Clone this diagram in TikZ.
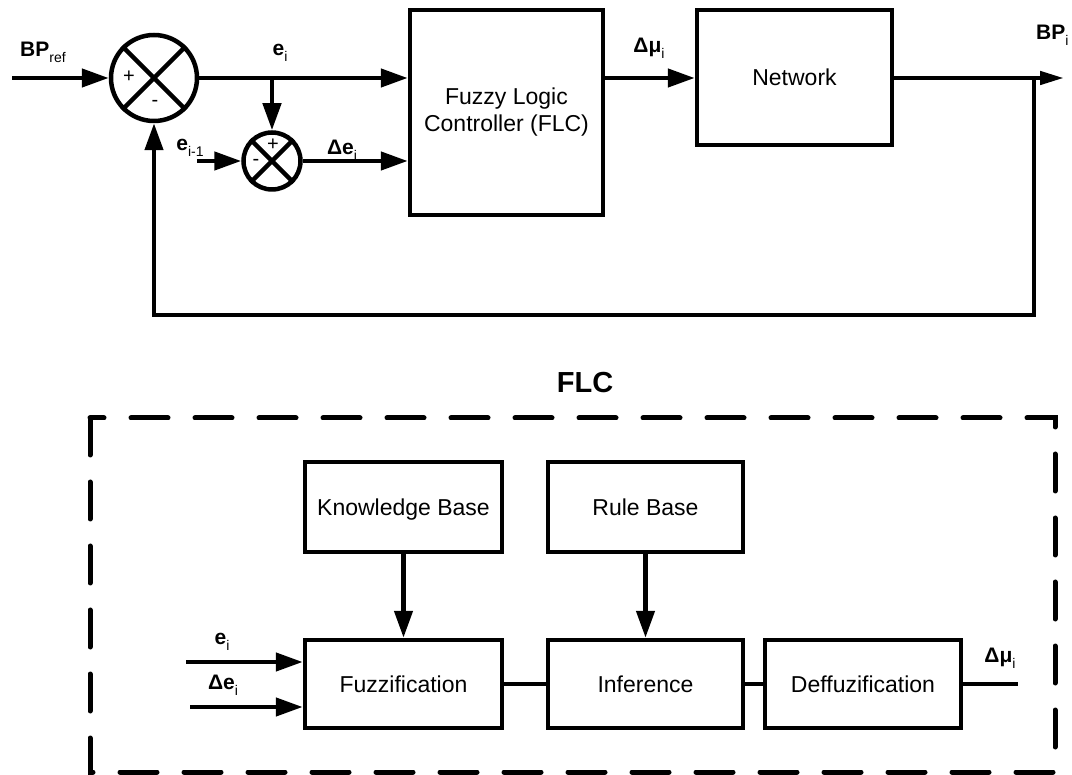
\documentclass[tikz,border=0pt]{standalone}
\usepackage{fontspec}
\setmainfont{Liberation Sans}
\usetikzlibrary{arrows.meta}
\newcommand\lblsub[1]{\raisebox{-0.3em}{\fontsize{14}{14}\selectfont\mdseries #1}}
\tikzset{
  blk/.style={draw, line width=4.5pt, rectangle, inner sep=0pt, align=center, font=\fontsize{23}{27}\selectfont},
  bb/.style={blk, text height=16.5pt, text depth=0pt},
  sumj/.style={draw, line width=4.5pt, circle, inner sep=0pt},
  wire/.style={line width=4.5pt},
  arr/.style={line width=4.5pt, -{Triangle[length=27pt,width=18pt]}},
  arrsm/.style={line width=4.5pt, -{Triangle[length=24pt,width=13pt]}},
  lbl/.style={font=\fontsize{21}{21}\selectfont\bfseries, inner sep=0pt},
  sgn/.style={font=\fontsize{20}{20}\selectfont, inner sep=0pt},
  dashbox/.style={line width=5pt, dash pattern=on 37pt off 27pt, line cap=round}
}
\begin{document}
\begin{tikzpicture}[x=1pt,y=-1pt]
\useasboundingbox (0,0) rectangle (1072,775);
% ---------- top loop ----------
\node[sumj, minimum size=86pt] (s1) at (154,78) {};
\draw[line width=4.5pt] (s1.north west) -- (s1.south east) (s1.north east) -- (s1.south west);
\node[sgn] (s1p) at (129,77) {+};
\node[sgn] (s1m) at (155,103) {-};
\node[sumj, minimum size=57pt] (s2) at (272,161) {};
\draw[line width=4.5pt] (s2.north west) -- (s2.south east) (s2.north east) -- (s2.south west);
\node[sgn] (s2p) at (273,145) {+};
\node[sgn] (s2m) at (256,162) {-};
\node[blk, minimum width=193pt, minimum height=205pt] (flc) at (506.5,112.5) {Fuzzy Logic\\Controller (FLC)};
\node[bb, minimum width=195pt, minimum height=135pt] (net) at (794.5,77.5) {Network};
\coordinate (bpin) at (12,78);
\coordinate (br) at (272,78);
\coordinate (ein) at (197,161);
\coordinate (split) at (1034,78);
\coordinate (bpout) at (1064,78);
\coordinate (fbc) at (154,315);
\draw[arr] (bpin) -- (s1);
\draw[arr] (s1.east) -- (s1.east -| flc.west);
\draw[arr] (br) -- (s2);
\draw[arr] (ein) -- (s2);
\draw[arr] (s2.east) -- (s2.east -| flc.west);
\draw[arr] (flc.east |- s1) -- (net.west |- s1);
\draw[wire] (net.east |- split) -- (split);
\draw[arrsm] (split) -- (bpout);
\draw[arr] (split) |- (fbc) -- (s1.south);
\node[lbl, anchor=west] (lbp) at (20,52) {BP\lblsub{ref}};
\node[lbl] (lei) at (280,53) {e\lblsub{i}};
\node[lbl] (lei1) at (190,148) {e\lblsub{i-1}};
\node[lbl] (ldei) at (342,150) {Δe\lblsub{i}};
\node[lbl] (ldmu) at (649,48) {Δμ\lblsub{i}};
\node[lbl, anchor=west] (lbpi) at (1036,35) {BP\lblsub{i}};
% ---------- FLC detail ----------
\node[font=\fontsize{29}{29}\selectfont\bfseries] (flct) at (585,383) {FLC};
\draw[dashbox] (90,418) rectangle (1055,772);
\node[bb, minimum width=197pt, minimum height=90pt] (kb) at (403.5,507) {Knowledge Base};
\node[bb, minimum width=197pt, minimum height=88pt] (fz) at (403.5,684) {Fuzzification};
\node[bb, minimum width=195pt, minimum height=90pt] (rb) at (645.5,507) {Rule Base};
\node[bb, minimum width=195pt, minimum height=88pt] (inf) at (645.5,684) {Inference};
\node[bb, minimum width=196pt, minimum height=88pt] (df) at (863,684) {Deffuzification};
\coordinate (e2in) at (186,662);
\coordinate (de2in) at (190,707);
\coordinate (muout) at (1018,684);
\draw[arr] (kb) -- (fz);
\draw[arr] (rb) -- (inf);
\draw[arr] (e2in) -- (e2in -| fz.west);
\draw[arr] (de2in) -- (de2in -| fz.west);
\draw[wire] (fz) -- (inf);
\draw[wire] (inf) -- (df);
\draw[wire] (df) -- (muout);
\node[lbl] (le2) at (222,642) {e\lblsub{i}};
\node[lbl] (lde2) at (223,685) {Δe\lblsub{i}};
\node[lbl] (ldmu2) at (1000,658) {Δμ\lblsub{i}};
\end{tikzpicture}
\end{document}
